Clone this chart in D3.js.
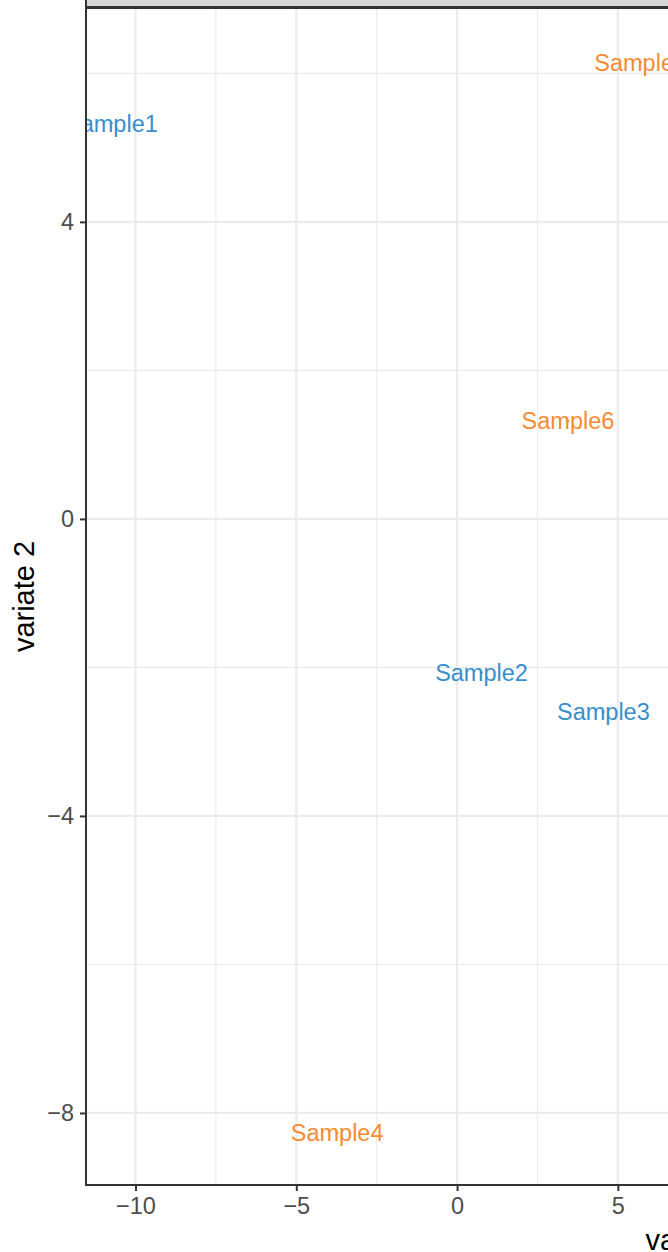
<!DOCTYPE html>
<html>
<head>
<meta charset="utf-8">
<script src="https://cdn.jsdelivr.net/npm/d3@7"></script>
<style>
  body { margin: 0; background: #fff; }
  svg { display: block; font-family: "Liberation Sans", Arial, sans-serif; }
</style>
</head>
<body>
<div id="chart"></div>
<script>
// data
var samples = ["Sample1", "Sample2", "Sample3", "Sample4", "Sample5", "Sample6"],
	groups = ["A", "A", "A", "B", "B", "B"],
	variate1 = [-10.75, 0.76, 4.55, -3.73, 5.71, 3.45],
	variate2 = [5.33, -2.07, -2.60, -8.27, 6.15, 1.32],
	xTicks = [-10, -5, 0, 5],
	yTicks = [-8, -4, 0, 4],
	xMinor = [-7.5, -2.5, 2.5, 7.5],
	yMinor = [-6, -2, 2, 6];

var width = 668,
	height = 1252,
	colors = { A: "#388ECC", B: "#F68B33" },
	svg = d3.select("#chart")
	.append("svg")
	.attr("width", width)
	.attr("height", height),
	x = d3.scaleLinear()
	.domain([-11.54, 6.56])
	.range([86, 668]),
	y = d3.scaleLinear()
	.domain([-8.97, 6.88])
	.range([1185, 8]);

var pLeft = 86, pTop = 8, pBottom = 1185, pRight = 1316;

svg.append("defs").append("clipPath")
	.attr("id", "panel")
	.append("rect")
	.attr("x", pLeft).attr("y", pTop)
	.attr("width", pRight - pLeft).attr("height", pBottom - pTop);

// grid
svg.append("g")
	.selectAll("line")
	.data(xMinor)
	.enter().append("line")
	.attr("x1", d => x(d)).attr("x2", d => x(d))
	.attr("y1", pTop).attr("y2", pBottom)
	.attr("stroke", "#EBEBEB").attr("stroke-width", 1.1);
svg.append("g")
	.selectAll("line")
	.data(yMinor)
	.enter().append("line")
	.attr("y1", d => y(d)).attr("y2", d => y(d))
	.attr("x1", pLeft).attr("x2", pRight)
	.attr("stroke", "#EBEBEB").attr("stroke-width", 1.1);
svg.append("g")
	.selectAll("line")
	.data(xTicks)
	.enter().append("line")
	.attr("x1", d => x(d)).attr("x2", d => x(d))
	.attr("y1", pTop).attr("y2", pBottom)
	.attr("stroke", "#EBEBEB").attr("stroke-width", 2.2);
svg.append("g")
	.selectAll("line")
	.data(yTicks)
	.enter().append("line")
	.attr("y1", d => y(d)).attr("y2", d => y(d))
	.attr("x1", pLeft).attr("x2", pRight)
	.attr("stroke", "#EBEBEB").attr("stroke-width", 2.2);

// points + labels (clipped to the panel)
var pts = svg.append("g")
	.attr("clip-path", "url(#panel)")
	.selectAll("g")
	.data(samples)
	.enter().append("g")
	.attr("transform", (d, i) => "translate(" + x(variate1[i]) + "," + y(variate2[i]) + ")");
pts.append("circle")
	.attr("r", 1.3)
	.attr("fill", (d, i) => colors[groups[i]]);
pts.append("text")
	.attr("text-anchor", "middle")
	.attr("dy", "0.36em")
	.attr("font-size", 23.5)
	.attr("fill", (d, i) => colors[groups[i]])
	.text(d => d);

// panel border + strip
svg.append("rect")
	.attr("x", pLeft).attr("y", pTop)
	.attr("width", pRight - pLeft).attr("height", pBottom - pTop)
	.attr("fill", "none").attr("stroke", "#333333").attr("stroke-width", 2);
svg.append("rect")
	.attr("x", pLeft).attr("y", -20)
	.attr("width", pRight - pLeft).attr("height", 27)
	.attr("fill", "#D9D9D9").attr("stroke", "#333333").attr("stroke-width", 2);

// axes
svg.append("g")
	.attr("transform", "translate(0," + (pBottom + 1) + ")")
	.call(d3.axisBottom(x).tickValues(xTicks).tickSize(5).tickPadding(6)
		.tickFormat(d => d < 0 ? "\u2212" + Math.abs(d) : d))
	.call(g => g.select(".domain").remove())
	.call(g => g.selectAll("line").attr("stroke", "#333333").attr("stroke-width", 2))
	.call(g => g.selectAll("text").attr("fill", "#4D4D4D").attr("font-size", 23.5)
		.attr("font-family", "Liberation Sans, Arial, sans-serif"));
svg.append("g")
	.attr("transform", "translate(" + (pLeft - 1) + ",0)")
	.call(d3.axisLeft(y).tickValues(yTicks).tickSize(5).tickPadding(6)
		.tickFormat(d => d < 0 ? "\u2212" + Math.abs(d) : d))
	.call(g => g.select(".domain").remove())
	.call(g => g.selectAll("line").attr("stroke", "#333333").attr("stroke-width", 2))
	.call(g => g.selectAll("text").attr("fill", "#4D4D4D").attr("font-size", 23.5)
		.attr("font-family", "Liberation Sans, Arial, sans-serif"));

// titles
svg.append("text")
	.attr("transform", "translate(24," + ((pTop + pBottom) / 2) + ") rotate(-90)")
	.attr("text-anchor", "middle")
	.attr("dy", "0.35em")
	.attr("font-size", 29)
	.attr("fill", "#000")
	.text("variate 2");
svg.append("text")
	.attr("x", (pLeft + pRight) / 2)
	.attr("y", 1250)
	.attr("text-anchor", "middle")
	.attr("font-size", 29)
	.attr("fill", "#000")
	.text("variate 1");
</script>
</body>
</html>
